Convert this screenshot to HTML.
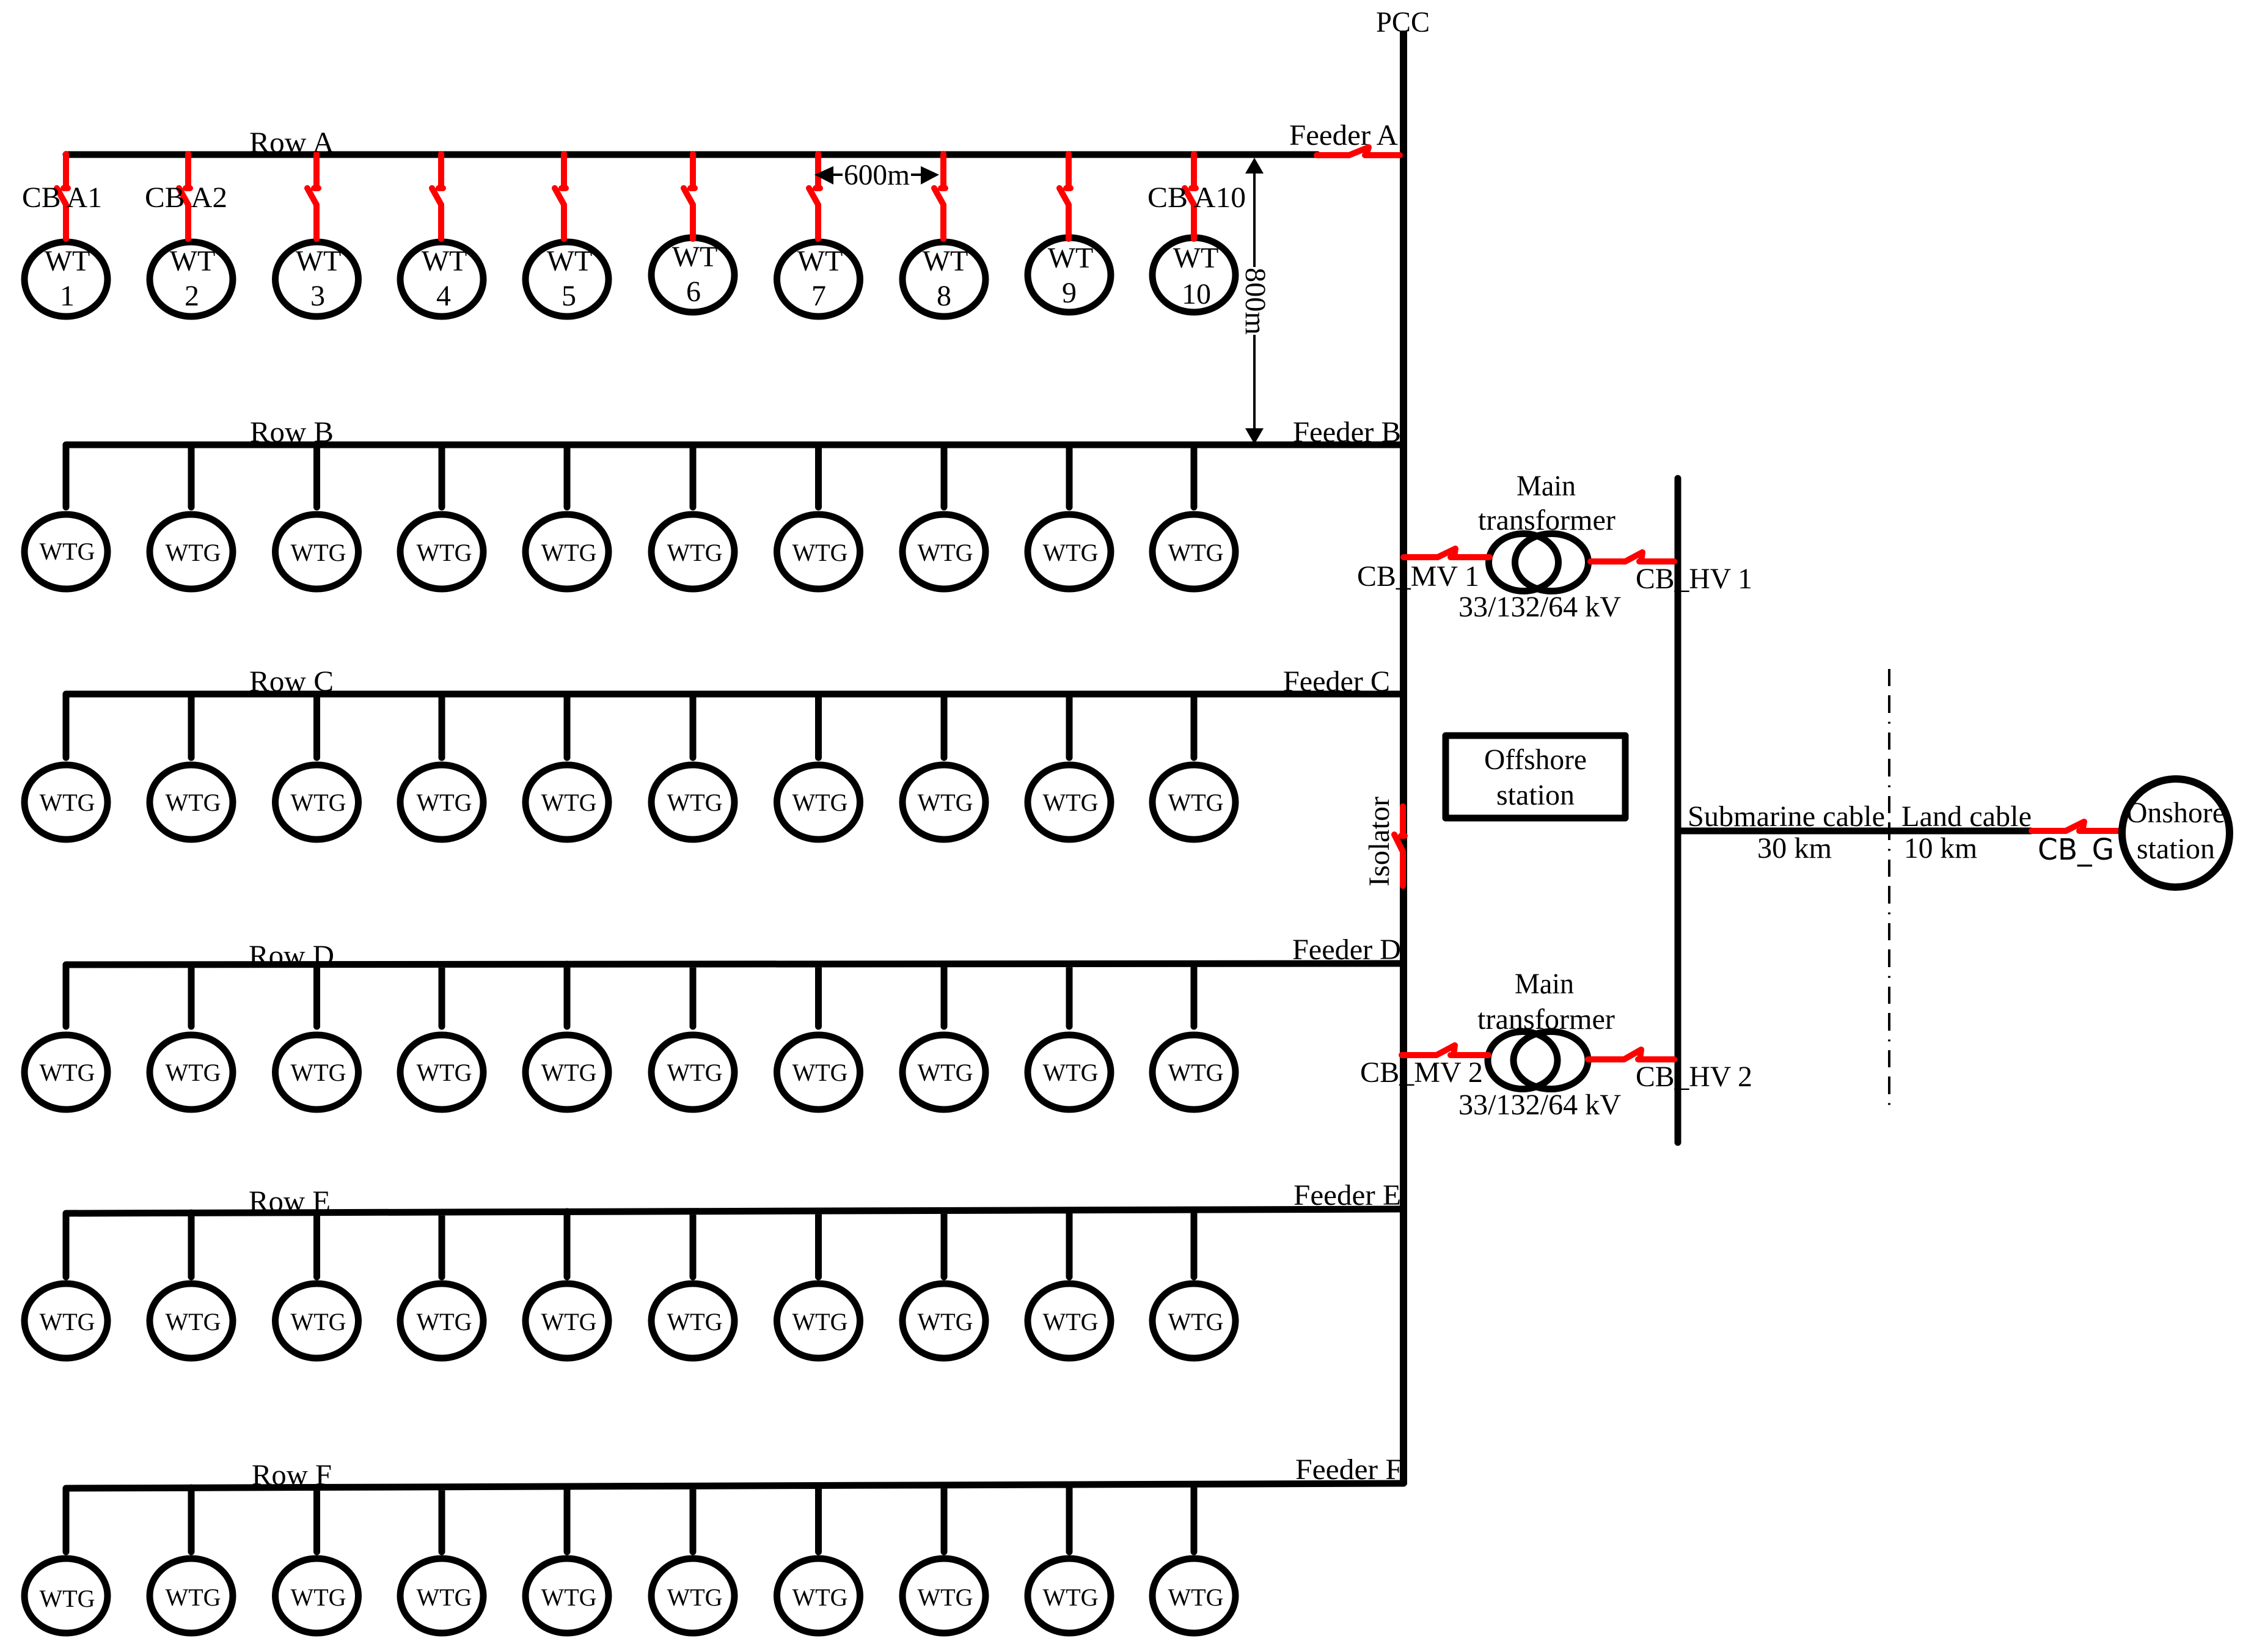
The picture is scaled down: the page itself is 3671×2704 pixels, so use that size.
<!DOCTYPE html>
<html><head><meta charset="utf-8"><style>
html,body{margin:0;padding:0;background:#fff}
svg{display:block}
text{font-family:"Liberation Serif",serif;font-size:48px;fill:#000}
.g{font-size:40px;text-anchor:middle}
.c{text-anchor:middle}
.k{fill:none;stroke:#000;stroke-width:11;stroke-linecap:round;stroke-linejoin:round}
.r{fill:none;stroke:#f00;stroke-width:10;stroke-linecap:round;stroke-linejoin:round}
.e{fill:none;stroke:#000;stroke-width:11}
</style></head><body>
<svg xmlns="http://www.w3.org/2000/svg" width="3671" height="2704" viewBox="0 0 3671 2704">
<defs>
<ellipse id="w" class="e" cx="0" cy="0" rx="68" ry="61"/>
<path id="cbv" class="r" d="M0 252V308M-4 308H3M-15 308L0 335V391"/>
<g id="row">
<use href="#w" x="108"/><use href="#w" x="313"/><use href="#w" x="518.5"/><use href="#w" x="723"/><use href="#w" x="928"/><use href="#w" x="1134"/><use href="#w" x="1339.5"/><use href="#w" x="1545"/><use href="#w" x="1750"/><use href="#w" x="1954"/>
</g>
</defs>
<rect width="3671" height="2704" fill="#fff"/>

<!-- main bus -->
<path d="M2297 50V2430" stroke="#000" stroke-width="12" fill="none"/>
<path d="M2746 783V1870" stroke="#000" stroke-width="11" fill="none" stroke-linecap="round"/>

<!-- Row A -->
<path class="k" d="M108 253H2156"/>
<g>
<ellipse class="e" cx="108" cy="457" rx="68" ry="61"/><ellipse class="e" cx="313" cy="457" rx="68" ry="61"/><ellipse class="e" cx="518.5" cy="457" rx="68" ry="61"/><ellipse class="e" cx="723" cy="457" rx="68" ry="61"/><ellipse class="e" cx="928" cy="457" rx="68" ry="61"/><ellipse class="e" cx="1134" cy="450" rx="68" ry="61"/><ellipse class="e" cx="1339.5" cy="457" rx="68" ry="61"/><ellipse class="e" cx="1545" cy="457" rx="68" ry="61"/><ellipse class="e" cx="1750" cy="450" rx="68" ry="61"/><ellipse class="e" cx="1954" cy="450" rx="68" ry="61"/>
</g>
<use href="#cbv" x="108"/><use href="#cbv" x="308"/><use href="#cbv" x="518"/><use href="#cbv" x="722"/><use href="#cbv" x="923"/><use href="#cbv" x="1134"/><use href="#cbv" x="1339"/><use href="#cbv" x="1544"/><use href="#cbv" x="1749"/><use href="#cbv" x="1954"/>

<!-- Rows B-F lines and drops -->
<path class="k" d="M108 830V728H2297M313 728V830M518.5 728V830M723 728V830M928 728V830M1134 728V830M1339.5 728V830M1545 728V830M1750 728V830M1954 728V830"/>
<path class="k" d="M108 1240V1136H2297M313 1136V1240M518.5 1136V1240M723 1136V1240M928 1136V1240M1134 1136V1240M1339.5 1136V1240M1545 1136V1240M1750 1136V1240M1954 1136V1240"/>
<path class="k" d="M108 1680V1579L2297 1577M313 1579V1680M518.5 1579V1680M723 1579V1680M928 1578V1680M1134 1578V1680M1339.5 1578V1680M1545 1578V1680M1750 1578V1680M1954 1578V1680"/>
<path class="k" d="M108 2090V1986L2297 1979M313 1985V2090M518.5 1985V2090M723 1984V2090M928 1983V2090M1134 1983V2090M1339.5 1982V2090M1545 1982V2090M1750 1981V2090M1954 1980V2090"/>
<path class="k" d="M108 2540V2436L2297 2428M313 2435V2540M518.5 2435V2540M723 2434V2540M928 2434V2540M1134 2433V2540M1339.5 2433V2540M1545 2432V2540M1750 2432V2540M1954 2431V2540"/>

<use href="#row" y="903"/><use href="#row" y="1313"/><use href="#row" y="1755"/><use href="#row" y="2162"/><use href="#row" y="2612"/>

<!-- Row A labels -->
<text class="c" x="110" y="443">WT</text><text class="c" x="110" y="500">1</text>
<text class="c" x="315" y="443">WT</text><text class="c" x="314" y="500">2</text>
<text class="c" x="521" y="443">WT</text><text class="c" x="520" y="500">3</text>
<text class="c" x="727" y="443">WT</text><text class="c" x="726" y="500">4</text>
<text class="c" x="932" y="443">WT</text><text class="c" x="931" y="500">5</text>
<text class="c" x="1137" y="436">WT</text><text class="c" x="1135" y="493">6</text>
<text class="c" x="1342" y="443">WT</text><text class="c" x="1340" y="500">7</text>
<text class="c" x="1547" y="443">WT</text><text class="c" x="1545" y="500">8</text>
<text class="c" x="1752" y="438">WT</text><text class="c" x="1750" y="495">9</text>
<text class="c" x="1957" y="438">WT</text><text class="c" x="1958" y="497">10</text>
<text x="36" y="339" textLength="131" lengthAdjust="spacingAndGlyphs">CB A1</text>
<text x="237" y="339" textLength="135" lengthAdjust="spacingAndGlyphs">CB A2</text>
<text x="1878" y="339" textLength="161" lengthAdjust="spacingAndGlyphs">CB A10</text>

<!-- WTG labels -->
<text class="g" x="110" y="916">WTG</text><text class="g" x="316" y="918">WTG</text><text class="g" x="521" y="918">WTG</text><text class="g" x="727" y="918">WTG</text><text class="g" x="931" y="918">WTG</text><text class="g" x="1137" y="918">WTG</text><text class="g" x="1342" y="918">WTG</text><text class="g" x="1547" y="918">WTG</text><text class="g" x="1752" y="918">WTG</text><text class="g" x="1957" y="918">WTG</text>
<text class="g" x="110" y="1327">WTG</text><text class="g" x="316" y="1327">WTG</text><text class="g" x="521" y="1327">WTG</text><text class="g" x="727" y="1327">WTG</text><text class="g" x="931" y="1327">WTG</text><text class="g" x="1137" y="1327">WTG</text><text class="g" x="1342" y="1327">WTG</text><text class="g" x="1547" y="1327">WTG</text><text class="g" x="1752" y="1327">WTG</text><text class="g" x="1957" y="1327">WTG</text>
<text class="g" x="110" y="1769">WTG</text><text class="g" x="316" y="1769">WTG</text><text class="g" x="521" y="1769">WTG</text><text class="g" x="727" y="1769">WTG</text><text class="g" x="931" y="1769">WTG</text><text class="g" x="1137" y="1769">WTG</text><text class="g" x="1342" y="1769">WTG</text><text class="g" x="1547" y="1769">WTG</text><text class="g" x="1752" y="1769">WTG</text><text class="g" x="1957" y="1769">WTG</text>
<text class="g" x="110" y="2177">WTG</text><text class="g" x="316" y="2177">WTG</text><text class="g" x="521" y="2177">WTG</text><text class="g" x="727" y="2177">WTG</text><text class="g" x="931" y="2177">WTG</text><text class="g" x="1137" y="2177">WTG</text><text class="g" x="1342" y="2177">WTG</text><text class="g" x="1547" y="2177">WTG</text><text class="g" x="1752" y="2177">WTG</text><text class="g" x="1957" y="2177">WTG</text>
<text class="g" x="110" y="2630">WTG</text><text class="g" x="316" y="2628">WTG</text><text class="g" x="521" y="2628">WTG</text><text class="g" x="727" y="2628">WTG</text><text class="g" x="931" y="2628">WTG</text><text class="g" x="1137" y="2628">WTG</text><text class="g" x="1342" y="2628">WTG</text><text class="g" x="1547" y="2628">WTG</text><text class="g" x="1752" y="2628">WTG</text><text class="g" x="1957" y="2628">WTG</text>

<!-- Row / feeder labels -->
<text x="408" y="249" textLength="139" lengthAdjust="spacingAndGlyphs">Row A</text>
<text x="409" y="723" textLength="137" lengthAdjust="spacingAndGlyphs">Row B</text>
<text x="408" y="1131" textLength="138" lengthAdjust="spacingAndGlyphs">Row C</text>
<text x="407" y="1580" textLength="140" lengthAdjust="spacingAndGlyphs">Row D</text>
<text x="407" y="1982" textLength="134" lengthAdjust="spacingAndGlyphs">Row E</text>
<text x="412" y="2430" textLength="131" lengthAdjust="spacingAndGlyphs">Row F</text>
<text x="2110" y="237" textLength="178" lengthAdjust="spacingAndGlyphs">Feeder A</text>
<text x="2116" y="723" textLength="177" lengthAdjust="spacingAndGlyphs">Feeder B</text>
<text x="2100" y="1131" textLength="175" lengthAdjust="spacingAndGlyphs">Feeder C</text>
<text x="2115" y="1570" textLength="178" lengthAdjust="spacingAndGlyphs">Feeder D</text>
<text x="2117" y="1972" textLength="176" lengthAdjust="spacingAndGlyphs">Feeder E</text>
<text x="2120" y="2421" textLength="175" lengthAdjust="spacingAndGlyphs">Feeder F</text>
<text x="2252" y="52" textLength="88" lengthAdjust="spacingAndGlyphs">PCC</text>

<!-- Feeder A CB -->
<path class="r" d="M2155 254H2208L2240 241L2236 254M2234 254H2291"/>

<!-- 800m dim -->
<path d="M2053 280V437M2053 548V706" stroke="#000" stroke-width="4" fill="none"/>
<path d="M2053 258L2068 284H2038ZM2053 727L2068 701H2038Z" fill="#000"/>
<text transform="translate(2039,438) rotate(90)" textLength="110" lengthAdjust="spacingAndGlyphs">800m</text>

<!-- 600m dim -->
<path d="M1364 286H1379M1491 286H1507" stroke="#000" stroke-width="4" fill="none"/>
<path d="M1333 286L1364 272V302ZM1537 286L1507 272V302Z" fill="#000"/>
<text x="1381" y="302" textLength="108" lengthAdjust="spacingAndGlyphs">600m</text>

<!-- Transformer 1 -->
<ellipse class="e" cx="2493.5" cy="920.5" rx="57" ry="47"/>
<ellipse class="e" cx="2539.5" cy="920.5" rx="60" ry="47"/>
<path class="r" d="M2297 912H2353L2382 898L2380 912M2374 912H2438"/>
<path class="r" d="M2603 919H2660L2688 904L2686 919M2683 919H2740"/>
<text x="2482" y="811" textLength="97" lengthAdjust="spacingAndGlyphs">Main</text>
<text x="2419" y="867" textLength="225" lengthAdjust="spacingAndGlyphs">transformer</text>
<text x="2387" y="1009" textLength="266" lengthAdjust="spacingAndGlyphs">33/132/64 kV</text>
<text x="2221" y="959" textLength="200" lengthAdjust="spacingAndGlyphs">CB_MV 1</text>
<text x="2677" y="963" textLength="191" lengthAdjust="spacingAndGlyphs">CB_HV 1</text>

<!-- Transformer 2 -->
<ellipse class="e" cx="2492" cy="1735.5" rx="57" ry="47"/>
<ellipse class="e" cx="2538" cy="1735.5" rx="61" ry="47"/>
<path class="r" d="M2294 1727H2351L2381 1711L2379 1727M2374 1727H2436"/>
<path class="r" d="M2599 1734H2658L2686 1718L2684 1734M2681 1734H2740"/>
<text x="2479" y="1626" textLength="97" lengthAdjust="spacingAndGlyphs">Main</text>
<text x="2418" y="1684" textLength="225" lengthAdjust="spacingAndGlyphs">transformer</text>
<text x="2387" y="1824" textLength="266" lengthAdjust="spacingAndGlyphs">33/132/64 kV</text>
<text x="2226" y="1771" textLength="201" lengthAdjust="spacingAndGlyphs">CB_MV 2</text>
<text x="2677" y="1778" textLength="191" lengthAdjust="spacingAndGlyphs">CB_HV 2</text>

<!-- Offshore -->
<rect class="e" x="2366" y="1204" width="294" height="135" stroke-linejoin="round"/>
<text x="2429" y="1259" textLength="168" lengthAdjust="spacingAndGlyphs">Offshore</text>
<text x="2449" y="1317" textLength="128" lengthAdjust="spacingAndGlyphs">station</text>

<!-- Isolator -->
<path class="r" d="M2296 1320V1366M2293 1368H2299M2282 1366L2296 1394V1450"/>
<text transform="translate(2273,1451) rotate(-90)" textLength="147" lengthAdjust="spacingAndGlyphs">Isolator</text>

<!-- Cable and onshore -->
<path d="M2746 1360H3325" stroke="#000" stroke-width="11" fill="none"/>
<path d="M3092 1095V1809" stroke="#000" stroke-width="4" fill="none" stroke-dasharray="28 15 29 14.5 3 14.5"/>
<path class="r" d="M3325 1360H3381L3411 1345L3408 1360M3403 1360H3467"/>
<ellipse cx="3561" cy="1363.5" rx="88" ry="88.5" fill="none" stroke="#000" stroke-width="12"/>
<text x="2762" y="1352" textLength="323" lengthAdjust="spacingAndGlyphs">Submarine cable</text>
<text x="2876" y="1404" textLength="122" lengthAdjust="spacingAndGlyphs">30 km</text>
<text x="3112" y="1352" textLength="213" lengthAdjust="spacingAndGlyphs">Land cable</text>
<text x="3116" y="1404" textLength="120" lengthAdjust="spacingAndGlyphs">10 km</text>
<text x="3335" y="1407" textLength="125" lengthAdjust="spacingAndGlyphs" style="font-family:'DejaVu Sans',sans-serif;font-size:48px">CB_G</text>
<text x="3480" y="1346" textLength="162" lengthAdjust="spacingAndGlyphs">Onshore</text>
<text x="3497" y="1405" textLength="128" lengthAdjust="spacingAndGlyphs">station</text>
</svg>
</body></html>
